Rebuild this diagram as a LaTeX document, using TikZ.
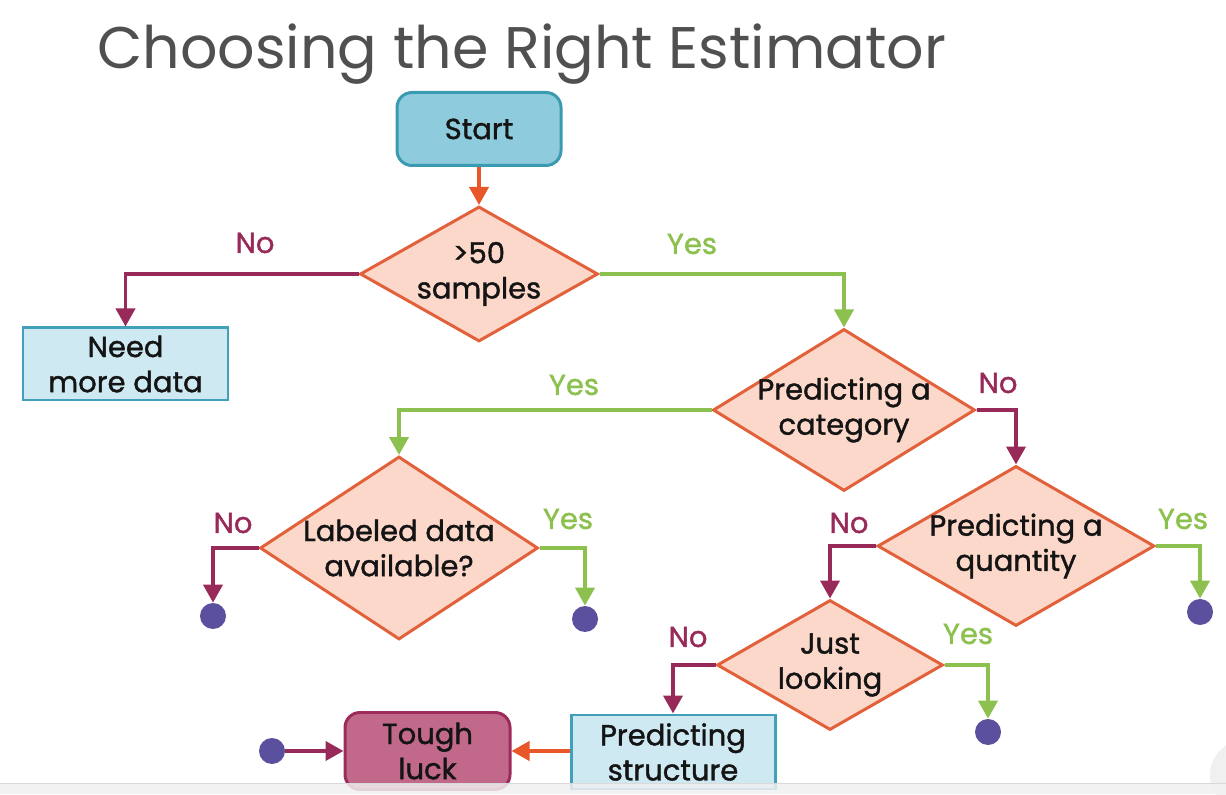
\documentclass[tikz,border=0pt]{standalone}
\usepackage{fontspec}
\setmainfont{Poppins}
\newfontfamily\nodefont{Poppins}[FakeBold=1.3]
\usepackage{xcolor}
\usepackage{tikz}
\usetikzlibrary{shapes.geometric,arrows.meta,positioning,calc}
\definecolor{startclr}{RGB}{142,203,220}
\definecolor{startedge}{RGB}{58,154,176}
\definecolor{boxclr}{RGB}{206,233,242}
\definecolor{boxedge}{RGB}{66,160,186}
\definecolor{diaclr}{RGB}{251,216,202}
\definecolor{diaedge}{RGB}{226,96,58}
\definecolor{toughclr}{RGB}{193,104,139}
\definecolor{toughedge}{RGB}{156,43,92}
\definecolor{flowclr}{RGB}{232,86,42}
\definecolor{noclr}{RGB}{152,42,89}
\definecolor{yesclr}{RGB}{141,193,79}
\definecolor{dotclr}{RGB}{91,80,158}
\definecolor{titleclr}{RGB}{80,80,80}
\definecolor{textclr}{RGB}{20,20,20}

\begin{document}
\begin{tikzpicture}[
  txt/.style={font=\nodefont\fontsize{16.5}{20}\selectfont, text=textclr, align=center},
  diam/.style={txt, diamond, shape aspect=1.6, draw=diaedge, fill=diaclr, line width=1.7pt, inner sep=-0.12cm},
  bluebox/.style={txt, rectangle, draw=boxedge, fill=boxclr, line width=1.7pt, inner sep=0pt},
  dot/.style={circle, fill=dotclr, minimum size=0.52cm, inner sep=0pt},
  yesarr/.style={draw=yesclr, line width=2.2pt, -{Triangle[width=0.38cm,length=0.36cm]}},
  noarr/.style={draw=noclr, line width=2.2pt, -{Triangle[width=0.38cm,length=0.36cm]}},
  flowarr/.style={draw=flowclr, line width=2.2pt, -{Triangle[width=0.38cm,length=0.36cm]}},
  yeslbl/.style={font=\nodefont\fontsize{16.5}{18}\selectfont, text=yesclr},
  nolbl/.style={font=\nodefont\fontsize{16.5}{18}\selectfont, text=noclr}
]
\useasboundingbox (0,0) rectangle (24.52,15.88);

% Title
\node[anchor=base west, inner sep=0pt, font=\fontsize{33.4}{38}\selectfont, text=titleclr]
  (title) at (1.94,14.50) {Choosing the Right Estimator};

% Start and first question
\node[txt, rectangle, rounded corners=0.3cm, draw=startedge, fill=startclr, line width=1.7pt,
  minimum width=3.28cm, minimum height=1.46cm] (start) at (9.58,13.30) {Start};
\node[diam, minimum width=4.76cm, minimum height=2.70cm] (d50) at (9.58,10.40) {>50\\samples};
\node[bluebox, minimum width=4.10cm, minimum height=1.44cm] (need) at (2.51,8.60) {Need\\more data};

% Questions
\node[diam, minimum width=5.24cm, minimum height=3.24cm] (dcat) at (16.88,7.68) {Predicting a\\category};
\node[diam, minimum width=5.56cm, minimum height=3.66cm] (dlab) at (7.98,4.92) {Labeled data\\available?};
\node[diam, minimum width=5.54cm, minimum height=3.20cm] (dqty) at (20.32,4.96) {Predicting a\\quantity};
\node[diam, minimum width=4.52cm, minimum height=2.60cm] (djust) at (16.60,2.58) {Just\\looking};

% Bottom row
\node[bluebox, minimum width=4.08cm, minimum height=1.48cm] (struct) at (13.46,0.84) {Predicting\\structure};
\node[txt, rectangle, rounded corners=0.3cm, draw=toughedge, fill=toughclr, line width=1.7pt,
  minimum width=3.30cm, minimum height=1.54cm] (tough) at (8.55,0.86) {Tough\\luck};

% End points
\node[dot] (c1) at (4.26,3.56) {};
\node[dot] (c2) at (11.70,3.50) {};
\node[dot] (c3) at (24.00,3.64) {};
\node[dot] (c4) at (19.76,1.24) {};
\node[dot] (c5) at (5.44,0.86) {};

% Connectors
\draw[flowarr] (start.south) -- (d50.north);
\draw[noarr]   (d50.west) -| (need.north);
\draw[yesarr]  (d50.east) -| (dcat.north);
\draw[yesarr]  (dcat.west) -| (dlab.north);
\draw[noarr]   (dcat.east) -| (dqty.north);
\draw[noarr]   (dlab.west) -| (c1.north);
\draw[yesarr]  (dlab.east) -| (c2.north);
\draw[noarr]   (dqty.west) -| (djust.north);
\draw[yesarr]  (dqty.east) -| (c3.north);
\draw[noarr]   (djust.west) -| (struct.north);
\draw[yesarr]  (djust.east) -| (c4.north);
\draw[flowarr] (struct.west |- tough) -- (tough.east);
\draw[noarr]   (c5.east) -- (tough.west);

% Branch labels
\node[nolbl]  (no1)  at (5.10,11.02) {No};
\node[yeslbl] (yes1) at (13.84,11.00) {Yes};
\node[yeslbl] (yes2) at (11.48,8.18) {Yes};
\node[nolbl]  (no2)  at (19.96,8.22) {No};
\node[nolbl]  (no3)  at (4.66,5.42) {No};
\node[yeslbl] (yes3) at (11.36,5.50) {Yes};
\node[nolbl]  (no4)  at (16.98,5.42) {No};
\node[yeslbl] (yes4) at (23.66,5.50) {Yes};
\node[nolbl]  (no5)  at (13.76,3.14) {No};
\node[yeslbl] (yes5) at (19.36,3.20) {Yes};

% Player bar at the bottom edge
\fill[gray!12] (24.90,0.38) circle (0.70);
\fill[gray!12, opacity=0.85] (0,0) rectangle (24.52,0.22);
\draw[gray!30] (0,0.22) -- (24.52,0.22);

\end{tikzpicture}
\end{document}
